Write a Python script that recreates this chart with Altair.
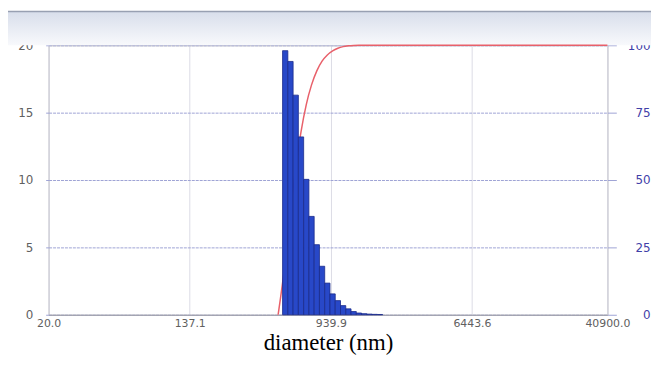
import altair as alt
import pandas as pd

# Bin edges of the size distribution (diameter, nm) and intensity per bin (%)
bin_edges = [486.6, 522.9, 561.8, 603.6, 648.6, 696.9, 748.8, 804.6, 864.5, 928.9,
             998.1, 1072.5, 1152.4, 1238.2, 1330.4, 1429.5, 1536.0, 1650.4, 1773.3, 1905.4]
intensity = [19.6, 18.8, 16.3, 13.2, 10.05, 7.3, 5.2, 3.6, 2.35, 1.55,
             1.05, 0.68, 0.44, 0.24, 0.13, 0.08, 0.05, 0.03, 0.02]

# Cumulative curve (diameter, nm -> cumulative %)
cum_diam = [458.0, 504.4, 542.0, 582.3, 625.7, 672.3, 722.4, 776.2, 834.0, 896.1,
            962.9, 1034.6, 1111.7, 1194.5, 1283.5, 1379.1, 40900.0]
cum_pct = [0, 19.6, 38.4, 54.7, 67.9, 78.0, 85.3, 90.5, 94.1, 96.4,
           97.9, 98.9, 99.5, 99.8, 99.95, 100, 100]

x_ticks = [20.0, 137.1, 939.9, 6443.6, 40900.0]
left_ticks = [0, 5, 10, 15, 20]
right_ticks = [0, 25, 50, 75, 100]

bars_df = pd.DataFrame({"lo": bin_edges[:-1], "hi": bin_edges[1:], "pct": intensity})
cum_df = pd.DataFrame({"d": cum_diam, "cum": cum_pct})

W, H = 564, 272
PAD_L, PAD_R = 41, 44

x_scale = alt.Scale(type="log", domain=[20, 40900], nice=False)


def x_axis():
    return alt.Axis(values=x_ticks, format=".1f", title="diameter (nm)", grid=True,
                    gridColor="#dcdce6", tickSize=0, domainColor="#a0a0a8",
                    labelFont="DejaVu Sans", labelFontSize=11, labelColor="#606060",
                    labelPadding=3, labelFlush=False,
                    titleFont="Liberation Serif", titleFontSize=23, titleFontWeight="normal",
                    titleColor="#000000", titleBaseline="alphabetic", titleY=35)


band = alt.Chart(alt.Data(values=[{}])).mark_rect(
    fill=alt.LinearGradient(gradient="linear",
                            stops=[alt.GradientStop(color="#d8deeb", offset=0),
                                   alt.GradientStop(color="#f8f9fc", offset=1)],
                            x1=0, x2=0, y1=0, y2=1)
).encode(x=alt.value(-PAD_L), x2=alt.value(W + PAD_R), y=alt.value(-34), y2=alt.value(0))

topline = alt.Chart(alt.Data(values=[{}])).mark_rule(color="#98a0b2", strokeWidth=1.5).encode(
    x=alt.value(-PAD_L), x2=alt.value(W + PAD_R), y=alt.value(-34))

line = alt.Chart(cum_df).mark_line(color="#e8606a", strokeWidth=1.5, interpolate="monotone").encode(
    x=alt.X("d:Q", scale=x_scale, axis=x_axis()),
    y=alt.Y("cum:Q", scale=alt.Scale(domain=[0, 100], nice=False),
            axis=alt.Axis(orient="right", values=right_ticks, title=None, grid=False,
                          tickSize=9, tickColor="#9ea3d4", domain=False,
                          labelFont="DejaVu Sans", labelFontSize=12, labelColor="#4040a8",
                          labelAlign="right", labelPadding=34, labelFlush=False)),
)

bars = alt.Chart(bars_df).mark_rect(color="#2848c8", stroke="#1a2a8a", strokeWidth=0.8).encode(
    x=alt.X("lo:Q", scale=x_scale, axis=x_axis()),
    x2="hi:Q",
    y=alt.Y("pct:Q", scale=alt.Scale(domain=[0, 20], nice=False),
            axis=alt.Axis(orient="left", values=left_ticks, title=None, grid=True,
                          gridColor="#9ea3d4", gridDash=[3, 1], tickSize=3,
                          tickColor="#9ea3d4", domain=False,
                          labelFont="DejaVu Sans", labelFontSize=12, labelColor="#606060",
                          labelPadding=13, labelFlush=False)),
    y2=alt.Y2(datum=0),
)

chart = alt.layer(band, topline, line, bars).resolve_scale(y="independent").properties(
    width=W, height=H,
    autosize=alt.AutoSizeParams(type="none"),
    padding={"left": PAD_L, "top": 36, "right": PAD_R, "bottom": 40},
    background="#ffffff",
).configure_view(stroke="#a8a8b0")

chart.save("out.html", embed_options={"renderer": "svg", "actions": False})
